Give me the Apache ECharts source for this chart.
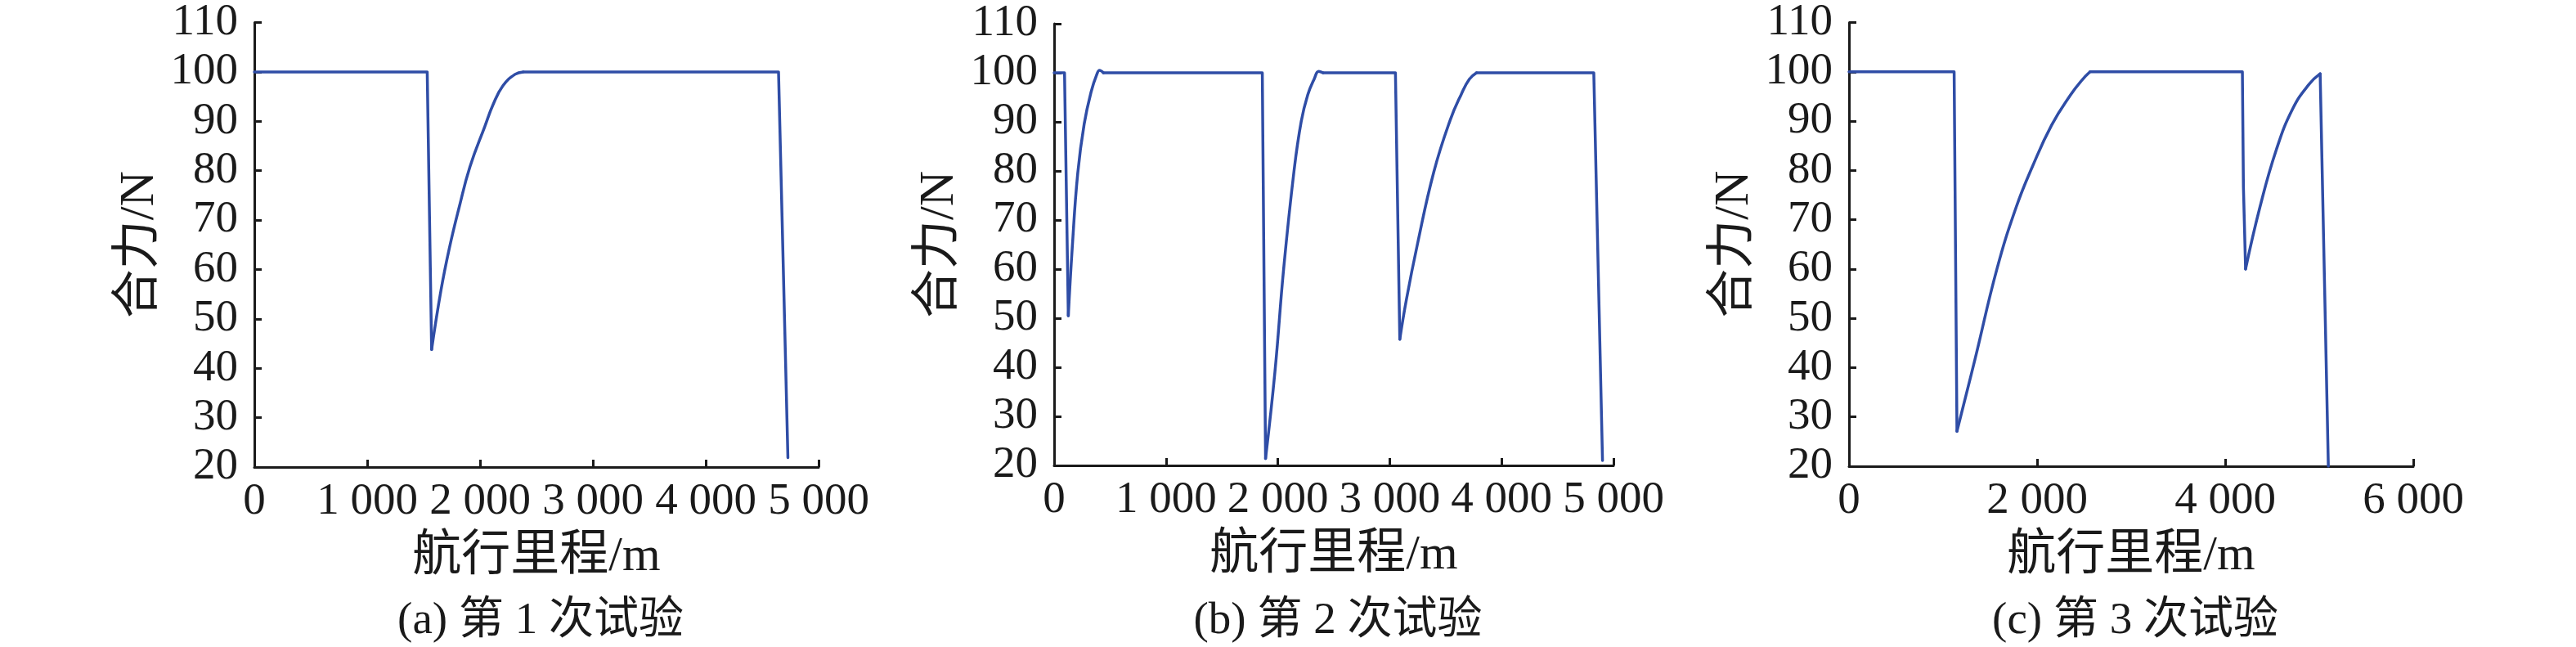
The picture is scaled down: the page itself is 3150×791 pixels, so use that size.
<!DOCTYPE html>
<html>
<head>
<meta charset="utf-8">
<script src="https://cdn.jsdelivr.net/npm/echarts@6/dist/echarts.min.js"></script>
<style>
html,body{margin:0;padding:0;background:#fff;}
#c{width:3150px;height:791px;}
</style>
</head>
<body>
<div id="c"></div>
<script>
// ---- data ----
const distA  = [0, 1532, 1571, 1654, 1727, 1814, 1911, 2043, 2116, 2203, 2310, 2383, 4645, 4728];
const forceA = [100, 100, 43.8, 55.8, 64.2, 72.5, 80.8, 89.0, 93.4, 97.2, 99.5, 100, 100, 21.9];

const distB  = [0, 93, 127, 162, 211, 269, 333, 382, 406, 441, 1861, 1890, 1974, 2052, 2145, 2209, 2267, 2326, 2365, 2404, 3051, 3090, 3149, 3247, 3394, 3541, 3639, 3712, 3776, 4824, 4902];
const forceB = [100, 100, 50.5, 64.3, 79.5, 89.6, 96.3, 99.7, 100.5, 100, 100, 21.4, 39.1, 60.1, 80.1, 90.1, 95.5, 98.8, 100.3, 100, 100, 45.7, 53.8, 65.0, 79.8, 90.4, 95.6, 98.7, 100, 100, 21.0];

const distC  = [0, 1118, 1148, 1340, 1573, 1777, 1951, 2155, 2359, 2476, 2563, 4183, 4194, 4217, 4369, 4544, 4718, 4893, 5010, 5097];
const forceC = [100, 100, 27.1, 41.7, 60, 72.5, 80.8, 89.2, 95.4, 98.3, 100, 100, 76.7, 60, 72.5, 84.2, 92.5, 97.5, 99.6, 20];

// index ranges (inclusive) of the curved recovery stretches in each run
const curvedA = [[2, 11]];
const curvedB = [[2, 9], [11, 19], [21, 28]];
const curvedC = [[2, 10], [13, 18]];

const xMaxes = [5000, 5000, 6000];
const xSteps = [1000, 1000, 2000];
const yMin = 20, yMax = 110, yStep = 10;
const panelTitles = ['(a) 第 1 次试验', '(b) 第 2 次试验', '(c) 第 3 次试验'];
const xName = '航行里程/m';
const yName = '合力/N';

// ---- layout ----
const grids = [
  {left: 311, top: 27, width: 690, height: 544},
  {left: 1289, top: 29, width: 684, height: 540},
  {left: 2261, top: 25, width: 690, height: 545}
];
const serif = '"Liberation Serif", "Noto Sans CJK SC", serif';
const ink = '#1a1a1a';
const lineColor = '#2F4DA6';

function fmtThousands(v) {
  const s = String(Math.round(v));
  return s.replace(/\B(?=(\d{3})+(?!\d))/g, ' ');
}

const runs = [
  {d: distA, f: forceA, curved: curvedA},
  {d: distB, f: forceB, curved: curvedB},
  {d: distC, f: forceC, curved: curvedC}
];

// split each run into straight and curved pieces (sharing end points)
const series = [];
runs.forEach((r, gi) => {
  const pts = r.d.map((x, i) => [x, r.f[i]]);
  let cursor = 0;
  const pieces = [];
  r.curved.forEach(([s, e]) => {
    if (s > cursor) pieces.push({from: cursor, to: s, smooth: false});
    pieces.push({from: s, to: e, smooth: true});
    cursor = e;
  });
  if (cursor < pts.length - 1) pieces.push({from: cursor, to: pts.length - 1, smooth: false});
  pieces.forEach(p => {
    series.push({
      type: 'line', xAxisIndex: gi, yAxisIndex: gi,
      data: pts.slice(p.from, p.to + 1),
      showSymbol: false, symbol: 'none',
      smooth: p.smooth ? 0.45 : false,
      lineStyle: {color: lineColor, width: 3.5, cap: 'round', join: 'round'},
      clip: true
    });
  });
});

const axisCommon = {
  axisLine: {show: true, onZero: false, lineStyle: {color: ink, width: 3}},
  axisTick: {show: true, inside: true, length: 9, lineStyle: {color: ink, width: 3}},
  splitLine: {show: false},
  nameTextStyle: {fontFamily: serif, fontSize: 60, color: ink}
};

const option = {
  backgroundColor: '#fff',
  animation: false,
  title: grids.map((g, i) => ({
    text: panelTitles[i],
    left: g.left + g.width / 2,
    top: 727,
    textAlign: 'center',
    textStyle: {fontFamily: serif, fontSize: 55, fontWeight: 'normal', color: ink}
  })),
  grid: grids.map(g => Object.assign({containLabel: false}, g)),
  xAxis: grids.map((g, i) => Object.assign({}, axisCommon, {
    type: 'value', gridIndex: i, min: 0, max: xMaxes[i], interval: xSteps[i],
    name: xName, nameLocation: 'middle', nameGap: 80,
    axisLabel: {fontFamily: serif, fontSize: 55, color: ink, margin: 15, formatter: fmtThousands}
  })),
  yAxis: grids.map((g, i) => Object.assign({}, axisCommon, {
    type: 'value', gridIndex: i, min: yMin, max: yMax, interval: yStep,
    name: yName, nameLocation: 'middle', nameGap: 110, nameRotate: 90,
    axisLabel: {fontFamily: serif, fontSize: 55, color: ink, margin: 20}
  })),
  series: series
};

const chart = echarts.init(document.getElementById('c'), null, {renderer: 'canvas'});
chart.setOption(option);
</script>
</body>
</html>
